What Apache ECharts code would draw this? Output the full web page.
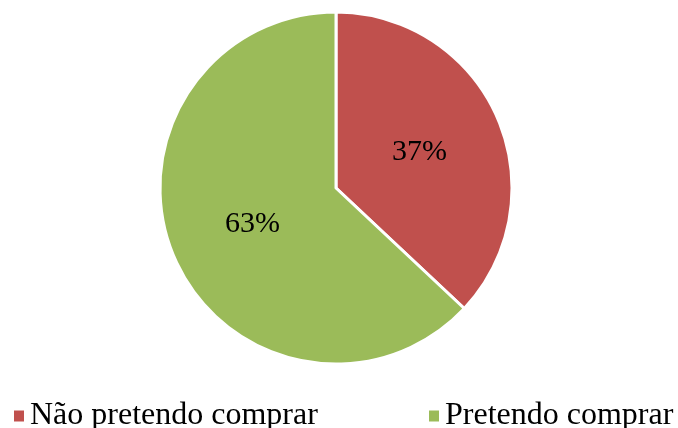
<!DOCTYPE html>
<html>
<head>
<meta charset="utf-8">
<script src="https://cdn.jsdelivr.net/npm/echarts@6/dist/echarts.min.js"></script>
<style>
  html, body { margin: 0; padding: 0; background: #ffffff; }
  #chart { width: 678px; height: 428px; }
</style>
</head>
<body>
<div id="chart"></div>
<script>
// Purchase intention shares
const categories = ['Não pretendo comprar', 'Pretendo comprar'];
const values = [37, 63];
const colors = ['#C0504D', '#9BBB59'];

const font = '"Liberation Serif", "Times New Roman", serif';

const legendBase = {
  top: 400, padding: 0,
  icon: 'rect', itemWidth: 12, itemHeight: 13, itemGap: 0,
  textStyle: { fontFamily: font, fontSize: 32, color: '#000' }
};

const chart = echarts.init(document.getElementById('chart'));
chart.setOption({
  animation: false,
  color: colors,
  legend: [
    Object.assign({}, legendBase, { data: [categories[0]], left: 12 }),
    Object.assign({}, legendBase, { data: [categories[1]], left: 427 })
  ],
  series: [{
    type: 'pie',
    center: [336, 188],
    radius: [0, 176],
    startAngle: 90,
    clockwise: true,
    itemStyle: { borderColor: '#ffffff', borderWidth: 3 },
    label: {
      position: 'inside',
      formatter: '{c}%',
      fontFamily: font,
      fontSize: 30,
      color: '#000'
    },
    labelLine: { show: false },
    emphasis: { disabled: true },
    data: categories.map((name, i) => ({ name, value: values[i] }))
  }]
});
</script>
</body>
</html>
